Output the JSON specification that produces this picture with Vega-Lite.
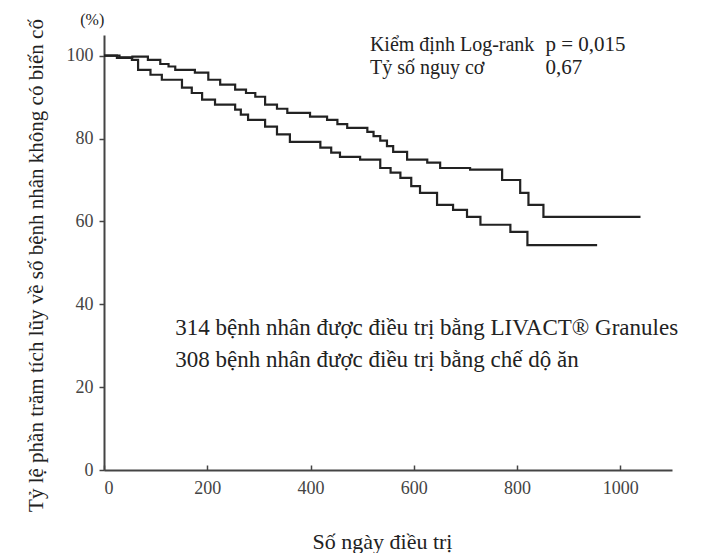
{
  "$schema": "https://vega.github.io/schema/vega-lite/v6.json",
  "width": 568,
  "height": 435,
  "autosize": {"type": "none"},
  "padding": {"left": 104, "top": 35, "right": 33, "bottom": 83},
  "background": "white",
  "config": {
    "view": {"stroke": null},
    "font": "Liberation Serif"
  },
  "datasets": {
    "curves": [
      {"group": "LIVACT", "day": 0, "pct": 100},
      {"group": "LIVACT", "day": 30, "pct": 99.6},
      {"group": "LIVACT", "day": 55, "pct": 99.8},
      {"group": "LIVACT", "day": 85, "pct": 99},
      {"group": "LIVACT", "day": 109, "pct": 98},
      {"group": "LIVACT", "day": 125, "pct": 97.4},
      {"group": "LIVACT", "day": 138, "pct": 96.6},
      {"group": "LIVACT", "day": 176, "pct": 95.9},
      {"group": "LIVACT", "day": 202, "pct": 94.2},
      {"group": "LIVACT", "day": 225, "pct": 93},
      {"group": "LIVACT", "day": 254, "pct": 91.8},
      {"group": "LIVACT", "day": 275, "pct": 91},
      {"group": "LIVACT", "day": 293, "pct": 90.1},
      {"group": "LIVACT", "day": 312, "pct": 88.2},
      {"group": "LIVACT", "day": 335, "pct": 87.2},
      {"group": "LIVACT", "day": 355, "pct": 86.2},
      {"group": "LIVACT", "day": 399, "pct": 85.3},
      {"group": "LIVACT", "day": 432, "pct": 84.5},
      {"group": "LIVACT", "day": 452, "pct": 83.5},
      {"group": "LIVACT", "day": 471, "pct": 82.6},
      {"group": "LIVACT", "day": 510, "pct": 81.6},
      {"group": "LIVACT", "day": 522, "pct": 80.6},
      {"group": "LIVACT", "day": 535, "pct": 79.5},
      {"group": "LIVACT", "day": 548, "pct": 78.2},
      {"group": "LIVACT", "day": 560, "pct": 76.8},
      {"group": "LIVACT", "day": 587, "pct": 74.9},
      {"group": "LIVACT", "day": 626, "pct": 74.2},
      {"group": "LIVACT", "day": 651, "pct": 72.9},
      {"group": "LIVACT", "day": 709, "pct": 72.5},
      {"group": "LIVACT", "day": 771, "pct": 70},
      {"group": "LIVACT", "day": 806, "pct": 66.9},
      {"group": "LIVACT", "day": 822, "pct": 64},
      {"group": "LIVACT", "day": 851, "pct": 61.1},
      {"group": "LIVACT", "day": 1039, "pct": 61.1},
      {"group": "Diet", "day": 0, "pct": 100},
      {"group": "Diet", "day": 25, "pct": 99.5},
      {"group": "Diet", "day": 54, "pct": 99},
      {"group": "Diet", "day": 66, "pct": 96.6},
      {"group": "Diet", "day": 90, "pct": 95.4},
      {"group": "Diet", "day": 112, "pct": 94.2},
      {"group": "Diet", "day": 151, "pct": 92.3},
      {"group": "Diet", "day": 170, "pct": 91},
      {"group": "Diet", "day": 190, "pct": 89.4},
      {"group": "Diet", "day": 215, "pct": 88.2},
      {"group": "Diet", "day": 254, "pct": 87},
      {"group": "Diet", "day": 265, "pct": 85.8},
      {"group": "Diet", "day": 279, "pct": 84.5},
      {"group": "Diet", "day": 312, "pct": 82.9},
      {"group": "Diet", "day": 335, "pct": 81},
      {"group": "Diet", "day": 360, "pct": 79.2},
      {"group": "Diet", "day": 419, "pct": 77.8},
      {"group": "Diet", "day": 440, "pct": 76.6},
      {"group": "Diet", "day": 457, "pct": 75.6},
      {"group": "Diet", "day": 496, "pct": 74.9},
      {"group": "Diet", "day": 535, "pct": 72.9},
      {"group": "Diet", "day": 555, "pct": 71.8},
      {"group": "Diet", "day": 574, "pct": 70.5},
      {"group": "Diet", "day": 595, "pct": 68.5},
      {"group": "Diet", "day": 612, "pct": 66.9},
      {"group": "Diet", "day": 645, "pct": 64},
      {"group": "Diet", "day": 676, "pct": 62.8},
      {"group": "Diet", "day": 703, "pct": 61.1},
      {"group": "Diet", "day": 729, "pct": 59.2},
      {"group": "Diet", "day": 787, "pct": 57.5},
      {"group": "Diet", "day": 820, "pct": 54.3},
      {"group": "Diet", "day": 955, "pct": 54.3}
    ],
    "labels": [
      {"day": 515, "pct": 102.7, "text": "Kiểm định Log-rank", "size": 20},
      {"day": 855, "pct": 102.7, "text": "p = 0,015", "size": 21},
      {"day": 515, "pct": 97.1, "text": "Tỷ số nguy cơ", "size": 20},
      {"day": 855, "pct": 97.1, "text": "0,67", "size": 21},
      {"day": 138, "pct": 34.3, "text": "314 bệnh nhân được điều trị bằng LIVACT® Granules", "size": 23},
      {"day": 138, "pct": 26.6, "text": "308 bệnh nhân được điều trị bằng chế dộ ăn", "size": 23},
      {"day": -46, "pct": 108.7, "text": "(%)", "size": 16}
    ]
  },
  "layer": [
    {
      "data": {"name": "curves"},
      "mark": {"type": "line", "interpolate": "step-after", "color": "#222222", "strokeWidth": 2.2},
      "encoding": {
        "x": {
          "field": "day", "type": "quantitative",
          "scale": {"domain": [0, 1100], "nice": false},
          "axis": {
            "title": "Số ngày điều trị",
            "values": [0, 200, 400, 600, 800, 1000],
            "format": "d",
            "grid": false,
            "domainColor": "#444", "domainWidth": 2,
            "tickColor": "#444", "tickSize": -5, "tickWidth": 1.5,
            "labelFont": "Liberation Serif", "labelFontSize": 18, "labelColor": "#444",
            "labelPadding": 14,
            "titleFont": "Liberation Serif", "titleFontSize": 22, "titleFontWeight": "normal",
            "titleColor": "#222", "titlePadding": 34, "titleX": 278
          }
        },
        "y": {
          "field": "pct", "type": "quantitative",
          "scale": {"domain": [0, 105], "nice": false},
          "axis": {
            "title": "Tỷ lệ phần trăm tích lũy về số bệnh nhân không có biến cố",
            "values": [0, 20, 40, 60, 80, 100],
            "grid": false,
            "domainColor": "#444", "domainWidth": 2,
            "tickColor": "#444", "tickSize": 5, "tickWidth": 1.5,
            "labelFont": "Liberation Serif", "labelFontSize": 18, "labelColor": "#444",
            "labelPadding": 6,
            "titleFont": "Liberation Serif", "titleFontSize": 21, "titleFontWeight": "normal",
            "titleColor": "#222", "titlePadding": 20, "titleY": 230
          }
        },
        "detail": {"field": "group"}
      }
    },
    {
      "data": {"name": "labels"},
      "mark": {"type": "text", "align": "left", "baseline": "middle", "font": "Liberation Serif", "color": "#222222", "clip": false},
      "encoding": {
        "x": {"field": "day", "type": "quantitative"},
        "y": {"field": "pct", "type": "quantitative"},
        "text": {"field": "text"},
        "size": {"field": "size", "type": "quantitative", "scale": null}
      }
    }
  ]
}
